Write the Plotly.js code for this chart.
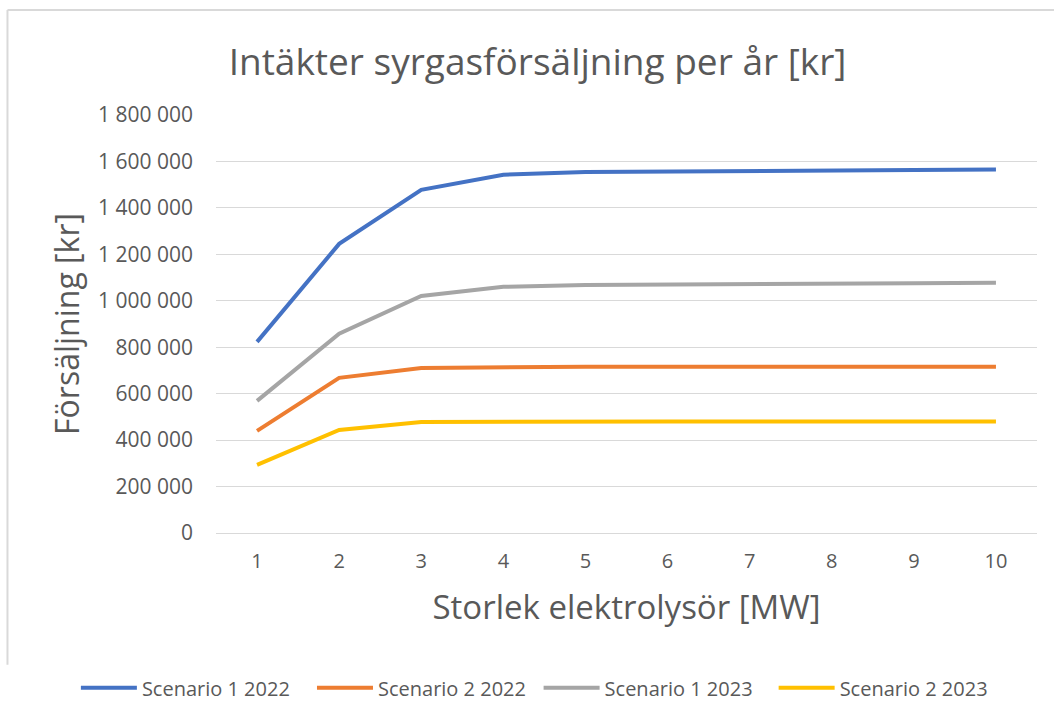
<!DOCTYPE html>
<html>
<head>
<meta charset="utf-8">
<script src="https://cdn.plot.ly/plotly-3.0.1.min.js"></script>
<style>
  body { margin: 0; background: #fff; }
  #chart { width: 1054px; height: 721px; }
</style>
</head>
<body>
<div id="chart"></div>
<script>
var sizes = ['1', '2', '3', '4', '5', '6', '7', '8', '9', '10'];

var scen1_2022 = [823000, 1245000, 1478000, 1543000, 1555000, 1558000, 1560000, 1562000, 1563000, 1565000];
var scen2_2022 = [440000, 668000, 711000, 715000, 716000, 716000, 716000, 716000, 716000, 716000];
var scen1_2023 = [569000, 858000, 1021000, 1060000, 1068000, 1071000, 1073000, 1075000, 1076000, 1078000];
var scen2_2023 = [293000, 444000, 478000, 480000, 480000, 480000, 480000, 480000, 480000, 480000];

var names = ['Scenario 1 2022', 'Scenario 2 2022', 'Scenario 1 2023', 'Scenario 2 2023'];
var colors = ['#4472C4', '#ED7D31', '#A5A5A5', '#FFC000'];
var series = [scen1_2022, scen2_2022, scen1_2023, scen2_2023];
var legendIds = ['legend', 'legend2', 'legend3', 'legend4'];
// left edge of each legend entry, as a share of the page width
var legendX = [0.072, 0.296, 0.511, 0.734];

var data = series.map(function (ys, i) {
  return {
    x: sizes,
    y: ys,
    type: 'scatter',
    mode: 'lines',
    name: names[i],
    legend: legendIds[i],
    line: { color: colors[i], width: 4 }
  };
});

var font = 'Open Sans, sans-serif';
var grey = '#595959';

var layout = {
  width: 1054,
  height: 721,
  paper_bgcolor: '#fff',
  plot_bgcolor: '#fff',
  font: { family: font, color: grey, size: 20 },
  margin: { l: 216, r: 17, t: 115, b: 188 },
  title: {
    text: 'Intäkter syrgasförsäljning per år [kr]',
    font: { size: 37, color: grey },
    x: 0.51, xanchor: 'center',
    y: 0.914, yanchor: 'middle'
  },
  separators: ', ',
  xaxis: {
    type: 'category',
    range: [-0.5, 9.5],
    showgrid: false,
    zeroline: false,
    showline: false,
    ticks: '',
    ticklabelstandoff: 14,
    tickfont: { size: 20, color: grey },
    title: { text: 'Storlek elektrolysör [MW]', font: { size: 33, color: grey }, standoff: 22 }
  },
  yaxis: {
    range: [0, 1800000],
    dtick: 200000,
    tickformat: ',d',
    showgrid: true,
    gridcolor: '#D9D9D9',
    gridwidth: 1,
    zeroline: true,
    zerolinecolor: '#D9D9D9',
    zerolinewidth: 1,
    ticks: '',
    ticklabelstandoff: 22,
    tickfont: { size: 21, color: grey },
    title: { text: 'Försäljning [kr]', font: { size: 32, color: grey }, standoff: 8 }
  },
  showlegend: true,
  shapes: [
    { type: 'line', xref: 'paper', yref: 'paper', x0: -0.254, x1: 1.03, y0: 1.251, y1: 1.251,
      line: { color: '#D9D9D9', width: 2 } },
    { type: 'line', xref: 'paper', yref: 'paper', x0: -0.254, x1: -0.254, y0: 1.251, y1: -0.315,
      line: { color: '#D9D9D9', width: 2 } }
  ]
};

legendIds.forEach(function (id, i) {
  layout[id] = {
    orientation: 'h',
    xref: 'container', yref: 'container',
    x: legendX[i], xanchor: 'left',
    y: 0.046, yanchor: 'middle',
    font: { size: 20, color: grey },
    itemwidth: 56,
    bgcolor: 'rgba(0,0,0,0)'
  };
});

Plotly.newPlot('chart', data, layout, { displayModeBar: false, staticPlot: true });
</script>
</body>
</html>
